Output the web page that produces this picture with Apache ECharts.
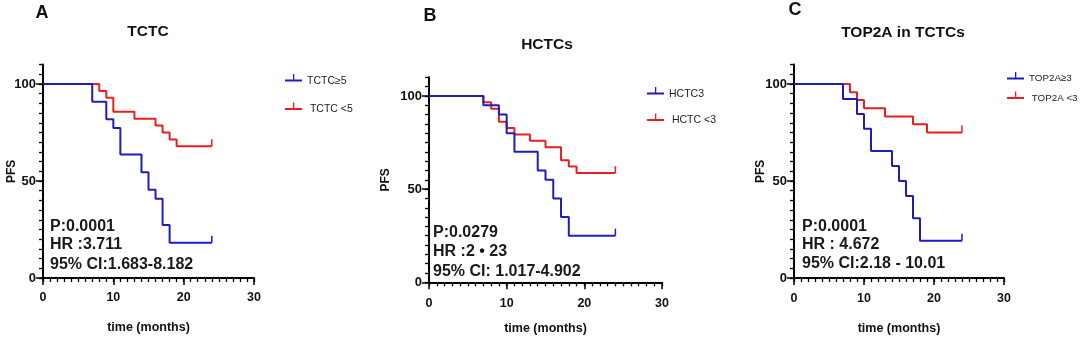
<!DOCTYPE html>
<html>
<head>
<meta charset="utf-8">
<script src="https://cdn.jsdelivr.net/npm/echarts@6/dist/echarts.min.js"></script>
<style>
html,body{margin:0;padding:0;background:#fff;}
#chart{width:1080px;height:340px;}
</style>
</head>
<body>
<div id="chart"></div>
<script>
// ---- data ----
const xTicks = [0, 10, 20, 30];
const yTicks = [0, 50, 100];

// Panel A: TCTC
const aHighTimes = [0, 7, 9, 10, 11, 14, 15, 16, 17, 18, 24];
const aHighSurv  = [100, 90.9, 81.8, 77.3, 63.6, 54.5, 45.5, 40.9, 27.3, 18.2, 18.2];
const aLowTimes  = [0, 8, 9, 10, 13, 16, 17, 18, 19, 24];
const aLowSurv   = [100, 96.4, 92.9, 85.7, 82.1, 78.6, 75.0, 71.4, 67.9, 67.9];

// Panel B: HCTCs
const bHighTimes = [0, 7, 9, 10, 11, 14, 15, 16, 17, 18, 24];
const bHighSurv  = [100, 95, 90, 80, 70, 60, 55, 45, 35, 25, 25];
const bLowTimes  = [0, 7, 8, 9, 10, 11, 13, 15, 17, 18, 19, 24];
const bLowSurv   = [100, 96.6, 93.1, 86.2, 82.8, 79.3, 75.9, 72.4, 65.5, 62.1, 58.6, 58.6];

// Panel C: TOP2A in TCTCs
const cHighTimes = [0, 7, 9, 10, 11, 14, 15, 16, 17, 18, 24];
const cHighSurv  = [100, 92.3, 84.6, 76.9, 65.4, 57.7, 50, 42.3, 30.8, 19.2, 19.2];
const cLowTimes  = [0, 8, 9, 10, 13, 17, 19, 24];
const cLowSurv   = [100, 95.8, 91.7, 87.5, 83.3, 79.2, 75, 75];

const panelTitles = ['TCTC', 'HCTCs', 'TOP2A in TCTCs'];
const panelLetters = ['A', 'B', 'C'];
const highNames = ['TCTC\u22655', 'HCTC3', 'TOP2A\u22653'];
const lowNames  = [' TCTC <5', ' HCTC <3', ' TOP2A <3'];
const statsP  = ['P:0.0001', 'P:0.0279', 'P:0.0001'];
const statsHR = ['HR :3.711', 'HR :2 \u2022 23', 'HR : 4.672'];
const statsCI = ['95% CI:1.683-8.182', '95% CI: 1.017-4.902', '95% CI:2.18 - 10.01'];
const xName = 'time (months)';
const yName = 'PFS';

// ---- layout / style ----
const BLUE = '#1c1cc0';
const RED = '#e81f1f';
const SANS = '"Liberation Sans",Arial,sans-serif';

const grids = [
  {left: 43, top: 64.6, width: 211, height: 213.4},
  {left: 429, top: 77.3, width: 233, height: 205},
  {left: 794, top: 64.6, width: 210, height: 213.4}
];
const yNameGaps = [25, 37, 27];
const xNameGaps = [43, 40, 44];
const xLabelMargins = [13, 15, 14];
const legendFont = [10.5, 10.5, 9.8];
const legendPos = [
  {left: 285, top: 74, itemGap: 15},
  {left: 647, top: 87, itemGap: 13},
  {left: 1007, top: 72, itemGap: 6}
];
const titlePos = [
  {x: 148, y: 32}, {x: 547, y: 45}, {x: 903, y: 33}
];
const letterPos = [
  {x: 42, y: 13}, {x: 430, y: 16}, {x: 795, y: 10}
];
const statPos = [
  {x: 50, y: [227, 245, 265]},
  {x: 433, y: [233, 252, 272]},
  {x: 802, y: [227, 245, 264]}
];

const allData = [
  [aHighTimes, aHighSurv, aLowTimes, aLowSurv],
  [bHighTimes, bHighSurv, bLowTimes, bLowSurv],
  [cHighTimes, cHighSurv, cLowTimes, cLowSurv]
];

const legendIcon = 'path://M0,6h17v2H0z M8,0.5h1.3v6H8z M8.5,8h0.01v6h-0.01z';

function kmData(times, surv) {
  return times.map((t, i) => {
    const item = {value: [t, surv[i]]};
    if (i === times.length - 1) {
      item.symbol = 'rect';
      item.symbolSize = [1.5, 7];
      item.symbolOffset = [0, -3.5];
    }
    return item;
  });
}

const xAxes = [], yAxes = [], series = [], legends = [], graphics = [];

grids.forEach((g, gi) => {
  xAxes.push({
    gridIndex: gi, type: 'value', min: 0, max: 30, interval: 1,
    name: xName, nameLocation: 'middle', nameGap: xNameGaps[gi], nameMoveOverlap: false,
    nameTextStyle: {fontFamily: SANS, fontWeight: 'bold', fontSize: 12.5, color: '#111'},
    axisLine: {show: true, onZero: false, lineStyle: {color: '#000', width: 2}},
    axisTick: {show: true, inside: false, length: 4, lineStyle: {color: '#000', width: 1.3}},
    axisLabel: {
      margin: xLabelMargins[gi], fontFamily: SANS, fontWeight: 'bold', fontSize: 12.5, color: '#111',
      formatter: v => (xTicks.indexOf(v) >= 0 ? String(v) : '')
    },
    splitLine: {show: false}
  });
  xAxes.push({
    gridIndex: gi, type: 'value', min: 0, max: 30, interval: 10, position: 'bottom',
    axisLine: {show: false, onZero: false},
    axisTick: {show: true, inside: false, length: 7, lineStyle: {color: '#000', width: 1.5}},
    axisLabel: {show: false}, splitLine: {show: false}
  });
  yAxes.push({
    gridIndex: gi, type: 'value', min: 0, max: 110, interval: 5,
    name: yName, nameLocation: 'middle', nameRotate: 90, nameGap: yNameGaps[gi], nameMoveOverlap: false,
    nameTextStyle: {fontFamily: SANS, fontWeight: 'bold', fontSize: 12, color: '#111'},
    axisLine: {show: true, onZero: false, lineStyle: {color: '#000', width: 2}},
    axisTick: {show: true, inside: false, length: 4, lineStyle: {color: '#000', width: 1.3}},
    axisLabel: {
      margin: 7, fontFamily: SANS, fontWeight: 'bold', fontSize: 13, color: '#111',
      formatter: v => (yTicks.indexOf(v) >= 0 ? String(v) : '')
    },
    splitLine: {show: false}
  });
  yAxes.push({
    gridIndex: gi, type: 'value', min: 0, max: 110, interval: 50, position: 'left',
    axisLine: {show: false, onZero: false},
    axisTick: {show: true, inside: false, length: 7, customValues: yTicks, lineStyle: {color: '#000', width: 1.5}},
    axisLabel: {show: false}, splitLine: {show: false}
  });

  const d = allData[gi];
  series.push({
    name: lowNames[gi], type: 'line', step: 'end',
    xAxisIndex: gi * 2, yAxisIndex: gi * 2,
    data: kmData(d[2], d[3]),
    symbol: 'none', showSymbol: true, showAllSymbol: true,
    itemStyle: {color: RED}, lineStyle: {color: RED, width: 2},
    animation: false, silent: true, z: 2
  });
  series.push({
    name: highNames[gi], type: 'line', step: 'end',
    xAxisIndex: gi * 2, yAxisIndex: gi * 2,
    data: kmData(d[0], d[1]),
    symbol: 'none', showSymbol: true, showAllSymbol: true,
    itemStyle: {color: BLUE}, lineStyle: {color: BLUE, width: 2},
    animation: false, silent: true, z: 3
  });

  legends.push({
    data: [highNames[gi], lowNames[gi]],
    orient: 'vertical', left: legendPos[gi].left, top: legendPos[gi].top,
    itemGap: legendPos[gi].itemGap, itemWidth: 17, itemHeight: 14,
    icon: legendIcon, selectedMode: false, padding: 0,
    textStyle: {fontFamily: SANS, fontSize: legendFont[gi], color: '#222'}
  });

  graphics.push({
    type: 'text', x: titlePos[gi].x, y: titlePos[gi].y,
    style: {text: panelTitles[gi], font: 'bold 15.5px ' + SANS, fill: '#111',
            textAlign: 'center', textVerticalAlign: 'middle'}
  });
  graphics.push({
    type: 'text', x: letterPos[gi].x, y: letterPos[gi].y,
    style: {text: panelLetters[gi], font: 'bold 18px ' + SANS, fill: '#111',
            textAlign: 'center', textVerticalAlign: 'middle'}
  });
  [statsP[gi], statsHR[gi], statsCI[gi]].forEach((t, k) => {
    graphics.push({
      type: 'text', x: statPos[gi].x, y: statPos[gi].y[k],
      style: {text: t, font: 'bold 16px ' + SANS, fill: '#1a1a1a',
              textAlign: 'left', textVerticalAlign: 'middle'}
    });
  });
});

const chart = echarts.init(document.getElementById('chart'), null, {renderer: 'canvas'});
chart.setOption({
  backgroundColor: '#fff',
  animation: false,
  grid: grids.map(g => Object.assign({containLabel: false, outerBoundsMode: 'none'}, g)),
  xAxis: xAxes,
  yAxis: yAxes,
  legend: legends,
  series: series,
  graphic: graphics
});
</script>
</body>
</html>
